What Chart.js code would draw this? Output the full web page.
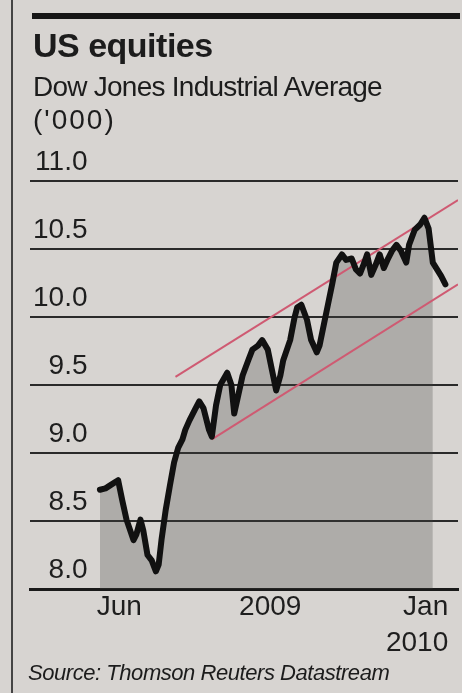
<!DOCTYPE html>
<html>
<head>
<meta charset="utf-8">
<title>US equities</title>
<script src="https://cdn.jsdelivr.net/npm/chart.js@4.4.1/dist/chart.umd.min.js"></script>
<style>
  html, body { margin: 0; padding: 0; }
  body {
    width: 462px; height: 693px; position: relative; overflow: hidden;
    background: #d7d4d1; color: #1c1c1c;
    font-family: "Liberation Sans", Arial, sans-serif;
  }
  #frame { position: absolute; left: 11px; top: 0; width: 2px; height: 693px; background: #444; }
  #rule { position: absolute; left: 32px; top: 13px; width: 428px; height: 6px; background: #161616; }
  #chartBox { position: absolute; left: 0; top: 0; width: 462px; height: 693px; }
  .txt { position: absolute; left: 33px; white-space: nowrap; }
  #title { top: 28px; font-size: 34px; line-height: 34px; font-weight: bold; letter-spacing: -0.5px; }
  #subtitle { top: 73px; font-size: 28px; line-height: 28px; letter-spacing: -0.75px; }
  #units { top: 106px; font-size: 28px; line-height: 28px; letter-spacing: 2px; }
  #source { left: 28px; top: 662px; font-size: 22px; line-height: 22px; font-style: italic; letter-spacing: -0.45px; }
</style>
</head>
<body>
<div id="frame"></div>
<div id="rule"></div>
<div id="chartBox"><canvas id="dowChart"></canvas></div>
<div class="txt" id="title">US equities</div>
<div class="txt" id="subtitle">Dow Jones Industrial Average</div>
<div class="txt" id="units">('000)</div>
<div class="txt" id="source">Source: Thomson Reuters Datastream</div>

<script>
// Days counted from 1 June 2009
const tradingDays = [0, 4, 7, 13, 16, 19, 24, 26, 29, 31, 34, 37, 40, 42, 44, 47, 50, 53, 56, 59,
  61, 64, 68, 71, 74, 78, 80, 83, 86, 91, 94, 96, 99, 102, 106, 109, 113, 116, 120, 123,
  126, 129, 131, 136, 139, 141, 144, 148, 151, 155, 157, 160, 163, 166, 169, 173, 176, 180, 183, 186,
  189, 191, 194, 197, 200, 203, 206, 209, 212, 215, 219, 221, 225, 229, 232, 235, 238, 241, 244, 247];

// Index level in thousands
const dowLevels = [8.73, 8.74, 8.76, 8.80, 8.65, 8.51, 8.36, 8.40, 8.51, 8.43, 8.25, 8.21, 8.13, 8.18, 8.36, 8.58, 8.76, 8.93, 9.04, 9.10,
  9.17, 9.24, 9.32, 9.38, 9.33, 9.17, 9.12, 9.35, 9.50, 9.59, 9.50, 9.29, 9.43, 9.57, 9.68, 9.76, 9.79, 9.83, 9.76, 9.61,
  9.46, 9.57, 9.68, 9.83, 9.99, 10.07, 10.09, 9.98, 9.83, 9.74, 9.79, 9.94, 10.09, 10.24, 10.40, 10.46, 10.42, 10.43, 10.35, 10.32,
  10.40, 10.46, 10.31, 10.38, 10.46, 10.36, 10.43, 10.49, 10.53, 10.49, 10.40, 10.53, 10.64, 10.68, 10.73, 10.65, 10.40, 10.35, 10.30, 10.24];

// Shaded band stops a few days before the last point
const shadeLastDay = 238;

// Trend channel drawn over the index
const upperChannelDays = [54, 256];
const upperChannel = [9.56, 10.86];
const lowerChannelDays = [80, 256];
const lowerChannel = [9.10, 10.24];

const xTickDays = [30, 144, 249];
const xTickLabels = ['Jun', '2009', ['Jan', '2010']];
const yTicks = [8.0, 8.5, 9.0, 9.5, 10.0, 10.5, 11.0];

const toPoints = (xs, ys) => xs.map((x, i) => ({ x: x, y: ys[i] }));

const dowPoints = toPoints(tradingDays, dowLevels);
const shadePoints = dowPoints.filter(p => p.x <= shadeLastDay);

const tickFont = { family: '"Liberation Sans", Arial, sans-serif', size: 28, lineHeight: 1.3 };

new Chart(document.getElementById('dowChart'), {
  type: 'line',
  data: {
    datasets: [
      {
        label: 'Dow Jones',
        data: dowPoints,
        borderColor: '#111111',
        borderWidth: 6,
        borderJoinStyle: 'round',
        borderCapStyle: 'round',
        pointRadius: 0,
        tension: 0,
        fill: false
      },
      {
        label: 'Upper channel',
        data: toPoints(upperChannelDays, upperChannel),
        borderColor: '#cf5a72',
        borderWidth: 2,
        pointRadius: 0,
        fill: false
      },
      {
        label: 'Lower channel',
        data: toPoints(lowerChannelDays, lowerChannel),
        borderColor: '#cf5a72',
        borderWidth: 2,
        pointRadius: 0,
        fill: false
      },
      {
        label: 'Shade',
        data: shadePoints,
        borderWidth: 0,
        borderColor: 'rgba(0,0,0,0)',
        backgroundColor: 'rgba(70, 68, 66, 0.28)',
        pointRadius: 0,
        tension: 0,
        fill: 'start'
      }
    ]
  },
  options: {
    responsive: true,
    maintainAspectRatio: false,
    animation: false,
    layout: { padding: { top: 181, left: 24, right: 4, bottom: 24 } },
    plugins: {
      legend: { display: false },
      tooltip: { enabled: false }
    },
    scales: {
      x: {
        type: 'linear',
        min: -50,
        max: 256,
        grid: { display: false, drawTicks: false },
        border: { display: true, color: '#1a1a1a', width: 3 },
        afterBuildTicks: scale => {
          scale.ticks = xTickDays.map(v => ({ value: v }));
        },
        afterFit: scale => {
          scale.height = 80;
        },
        ticks: {
          autoSkip: false,
          maxRotation: 0,
          align: 'end',
          padding: 0,
          color: '#1e1e1e',
          font: tickFont,
          callback: value => xTickLabels[xTickDays.indexOf(value)]
        }
      },
      y: {
        min: 8,
        max: 11,
        grid: { color: '#2a2a2a', lineWidth: 2, drawTicks: false },
        border: { display: false },
        afterBuildTicks: scale => {
          scale.ticks = yTicks.map(v => ({ value: v }));
        },
        ticks: {
          mirror: true,
          crossAlign: 'far',
          padding: 3,
          labelOffset: -19,
          color: '#1e1e1e',
          font: tickFont,
          callback: value => value.toFixed(1)
        }
      }
    }
  }
});
</script>
</body>
</html>
